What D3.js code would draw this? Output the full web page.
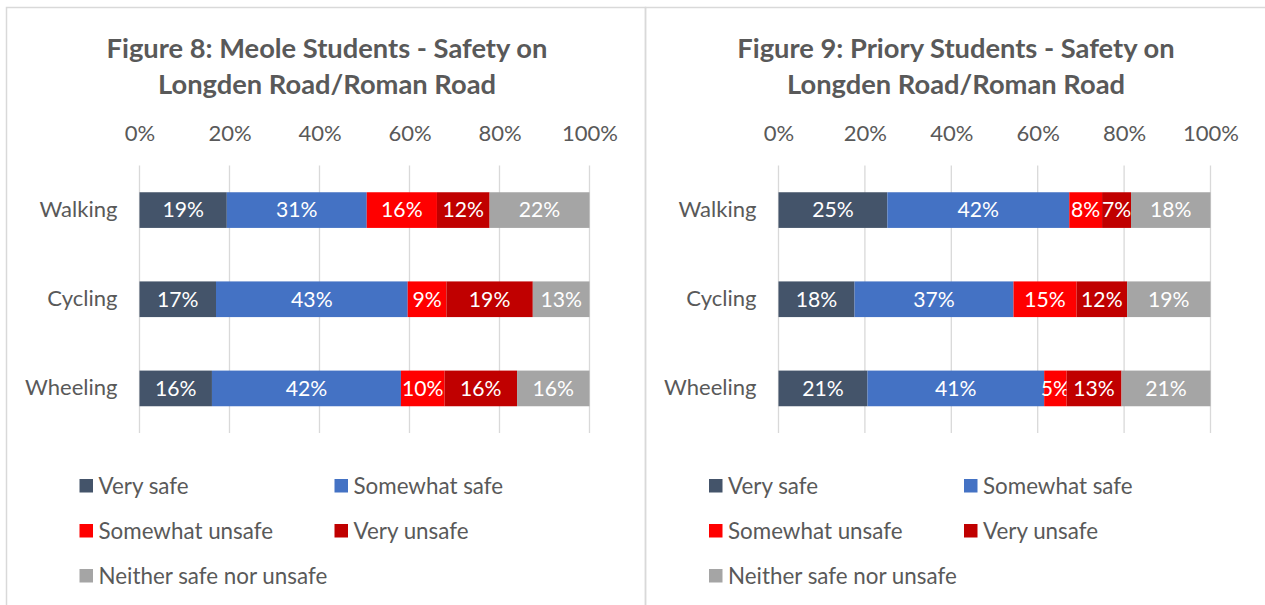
<!DOCTYPE html>
<html>
<head>
<meta charset="utf-8">
<script src="https://cdn.jsdelivr.net/npm/d3@7"></script>
<style>
  body { margin: 0; background: #fff; }
  svg { display: block; }
</style>
</head>
<body>
<div id="chart"></div>
<script>
var svgWidth = 1265;
var svgHeight = 605;

// categories and answers
var categories = ["Walking", "Cycling", "Wheeling"];
var responses = ["Very safe", "Somewhat safe", "Somewhat unsafe", "Very unsafe", "Neither safe nor unsafe"];
var colours = ["#44546A", "#4472C4", "#FF0000", "#C00000", "#A5A5A5"];
var tickValues = [0, 20, 40, 60, 80, 100];

// Figure 8 - Meole (percent of students, per category)
var meoleVerySafe = [19.4, 17.0, 16.1];
var meoleSomewhatSafe = [31.1, 42.6, 42.0];
var meoleSomewhatUnsafe = [15.6, 8.6, 9.7];
var meoleVeryUnsafe = [11.7, 19.2, 16.1];
var meoleNeither = [22.2, 12.6, 16.1];

// Figure 9 - Priory
var prioryVerySafe = [25.2, 17.6, 20.6];
var priorySomewhatSafe = [42.1, 36.8, 40.9];
var priorySomewhatUnsafe = [7.6, 14.6, 5.2];
var prioryVeryUnsafe = [6.7, 11.7, 12.7];
var prioryNeither = [18.4, 19.3, 20.6];

var textColour = "#595959";
var gridColour = "#D9D9D9";
var fontFamily = "Lato, 'Open Sans', sans-serif";

var svg = d3.select("#chart")
  .append("svg")
  .attr("width", svgWidth)
  .attr("height", svgHeight);

// find a font size so the text is as wide as in the picture (Calibri there)
function fitSize(str, weight, target) {
  var t = svg.append("text")
    .attr("font-family", fontFamily)
    .attr("font-weight", weight)
    .attr("font-size", 100)
    .text(str);
  var w = t.node().getComputedTextLength();
  t.remove();
  return 100 * target / w;
}

var baseSize = fitSize("Walking", 400, 78);
var legendSize = fitSize("Neither safe nor unsafe", 400, 229);
var titleSize = fitSize("Figure 8: Meole Students - Safety on", 700, 441);

// panel borders
svg.append("rect")
  .attr("x", 6.5).attr("y", 7.5)
  .attr("width", 639).attr("height", 620)
  .attr("fill", "none")
  .attr("stroke", gridColour)
  .attr("stroke-width", 1.5);

svg.append("rect")
  .attr("x", 645.5).attr("y", 7.5)
  .attr("width", 640).attr("height", 620)
  .attr("fill", "none")
  .attr("stroke", gridColour)
  .attr("stroke-width", 1.5);

var panels = [
  {
    title: ["Figure 8: Meole Students - Safety on", "Longden Road/Roman Road"],
    titleX: 327,
    xRange: [139.5, 589.5],
    legendX: 79.5,
    series: [meoleVerySafe, meoleSomewhatSafe, meoleSomewhatUnsafe, meoleVeryUnsafe, meoleNeither]
  },
  {
    title: ["Figure 9: Priory Students - Safety on", "Longden Road/Roman Road"],
    titleX: 956,
    xRange: [778.5, 1210.5],
    legendX: 709,
    series: [prioryVerySafe, priorySomewhatSafe, priorySomewhatUnsafe, prioryVeryUnsafe, prioryNeither]
  }
];

panels.forEach(function(p) {
  var g = svg.append("g");

  // table for d3.stack
  var rows = categories.map(function(c, i) {
    var row = { category: c };
    responses.forEach(function(r, j) { row[r] = p.series[j][i]; });
    return row;
  });
  var stacked = d3.stack().keys(responses)(rows);

  var x = d3.scaleLinear()
    .domain([0, 100])
    .range(p.xRange);

  var y = d3.scaleBand()
    .domain(categories)
    .range([165.5, 433])
    .paddingInner(0.6)
    .paddingOuter(0.3);

  var colour = d3.scaleOrdinal()
    .domain(responses)
    .range(colours);

  // title
  g.append("text")
    .attr("x", p.titleX)
    .attr("y", 47)
    .attr("text-anchor", "middle")
    .attr("dominant-baseline", "central")
    .attr("font-family", fontFamily)
    .attr("font-weight", 700)
    .attr("font-size", titleSize)
    .attr("fill", textColour)
    .selectAll("tspan")
    .data(p.title)
    .enter()
    .append("tspan")
    .attr("x", p.titleX)
    .attr("dy", function(d, i) { return i == 0 ? 0 : 36; })
    .text(function(d) { return d; });

  // gridlines
  g.append("g")
    .selectAll("line")
    .data(tickValues)
    .enter()
    .append("line")
    .attr("x1", function(d) { return x(d); })
    .attr("x2", function(d) { return x(d); })
    .attr("y1", 165.5)
    .attr("y2", 433)
    .attr("stroke", gridColour)
    .attr("stroke-width", 1.3);

  // top axis labels
  var topAxis = d3.axisTop(x)
    .tickValues(tickValues)
    .tickFormat(function(d) { return d + "%"; })
    .tickSize(0)
    .tickPadding(0);

  var xAxis = g.append("g")
    .attr("transform", "translate(0, 133)")
    .call(topAxis);
  xAxis.select(".domain").remove();
  xAxis.selectAll("text")
    .attr("dy", "0.35em")
    .attr("font-family", fontFamily)
    .attr("font-size", baseSize)
    .attr("fill", textColour);

  // category labels
  var leftAxis = d3.axisLeft(y)
    .tickSize(0)
    .tickPadding(22);

  var yAxis = g.append("g")
    .attr("transform", "translate(" + p.xRange[0] + ", 0)")
    .call(leftAxis);
  yAxis.select(".domain").remove();
  yAxis.selectAll("text")
    .attr("font-family", fontFamily)
    .attr("font-size", baseSize)
    .attr("fill", textColour);

  // stacked bars
  var layers = g.append("g")
    .selectAll("g")
    .data(stacked)
    .enter()
    .append("g")
    .attr("fill", function(d) { return colour(d.key); });

  layers.selectAll("rect")
    .data(function(d) { return d; })
    .enter()
    .append("rect")
    .attr("x", function(d) { return x(d[0]); })
    .attr("y", function(d) { return y(d.data.category); })
    .attr("width", function(d) { return x(d[1]) - x(d[0]); })
    .attr("height", y.bandwidth());

  layers.selectAll("text")
    .data(function(d) { return d; })
    .enter()
    .append("text")
    .attr("x", function(d) { return (x(d[0]) + x(d[1])) / 2; })
    .attr("y", function(d) { return y(d.data.category) + y.bandwidth() / 2; })
    .attr("dy", "0.35em")
    .attr("text-anchor", "middle")
    .attr("font-family", fontFamily)
    .attr("font-size", baseSize * 0.96)
    .attr("fill", "#fff")
    .text(function(d) { return Math.round(d[1] - d[0]) + "%"; });

  // legend, two columns
  var legend = g.append("g")
    .selectAll("g")
    .data(responses)
    .enter()
    .append("g")
    .attr("transform", function(d, i) {
      return "translate(" + (p.legendX + (i % 2) * 255) + "," + (479 + Math.floor(i / 2) * 45) + ")";
    });

  legend.append("rect")
    .attr("width", 13.5)
    .attr("height", 13.5)
    .attr("fill", function(d) { return colour(d); });

  legend.append("text")
    .attr("x", 19)
    .attr("y", 7)
    .attr("dy", "0.35em")
    .attr("font-family", fontFamily)
    .attr("font-size", legendSize)
    .attr("fill", textColour)
    .text(function(d) { return d; });
});
</script>
</body>
</html>
